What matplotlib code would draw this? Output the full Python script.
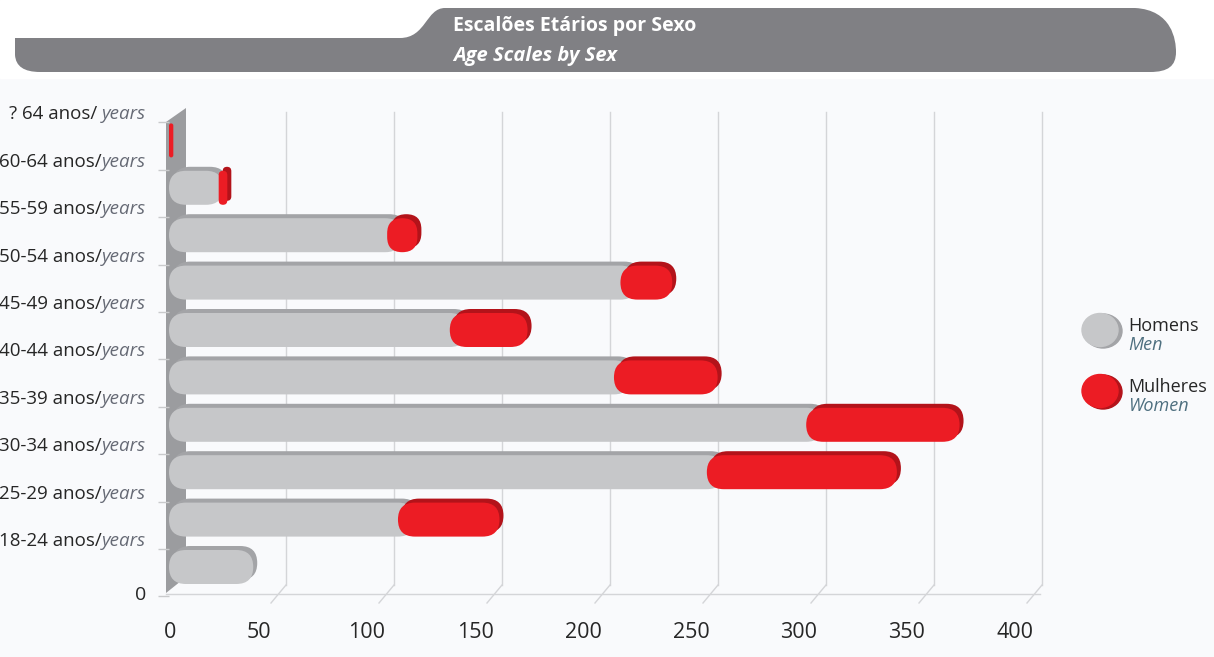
import matplotlib
matplotlib.use("Agg")
import matplotlib.pyplot as plt
import matplotlib.transforms as mtransforms
from matplotlib.patches import FancyBboxPatch, BoxStyle, Polygon, Ellipse, PathPatch, Rectangle
from matplotlib.path import Path

# data (bottom row first)
age_groups = ["18-24", "25-29", "30-34", "35-39", "40-44",
              "45-49", "50-54", "55-59", "60-64", "? 64"]
men = [39, 106, 249, 295, 206, 130, 209, 101, 23, 0]
women = [0, 47, 88, 71, 48, 36, 24, 14, 4, 2]
x_ticks = [0, 50, 100, 150, 200, 250, 300, 350, 400]

W, H = 1214, 657
GREY, GREY_DARK = "#c6c7c9", "#a3a4a7"
RED, RED_DARK = "#ec1c24", "#b3131a"
TXT = "#262626"
SUB = "#666a75"

plt.rcParams["font.family"] = ["Open Sans", "DejaVu Sans"]

fig = plt.figure(figsize=(W / 100, H / 100), dpi=100)
fig.patch.set_facecolor("#f9fafc")

# axes geometry (pixels): x=0 at 169 px, 2.16 px per unit; row 0 at 567 px, 47.4 px per row
X0, SX, XMAX = 169, 2.16, 430
Y0, SY = 567, 47.4
YLO, YHI = -0.9, 9.9
ax = fig.add_axes([X0 / W, (H - (Y0 - YLO * SY)) / H, XMAX * SX / W, (YHI - YLO) * SY / H])
ax.set_xlim(0, XMAX)
ax.set_ylim(YLO, YHI)
ax.set_facecolor("none")
for s in ax.spines.values():
    s.set_visible(False)
ax.set_xticks([])

# pixel transform (origin top-left)
pxT = mtransforms.Affine2D().scale(1 / W, -1 / H).translate(0, 1) + fig.transFigure

# white header strip + banner
ax.add_patch(Rectangle((0, 0), W, 78, transform=pxT, color="white", clip_on=False, zorder=0))
verts = [(445, 8), (1135, 8), (1172, 10), (1176, 40), (1176, 52),
         (1176, 66), (1168, 72), (1150, 72), (40, 72), (16, 72), (15, 55),
         (15, 38), (400, 38), (426, 38), (426, 8), (445, 8)]
codes = [Path.MOVETO, Path.LINETO, Path.CURVE4, Path.CURVE4, Path.CURVE4,
         Path.CURVE4, Path.CURVE4, Path.CURVE4, Path.LINETO, Path.CURVE3, Path.CURVE3,
         Path.LINETO, Path.LINETO, Path.CURVE4, Path.CURVE4, Path.CURVE4]
ax.add_patch(PathPatch(Path(verts, codes), transform=pxT, facecolor="#808084",
                       edgecolor="none", clip_on=False, zorder=1))
ax.text(453, 26, "Escalões Etários por Sexo", transform=pxT, color="white",
        fontsize=14, fontweight="bold", va="center", ha="left")
ax.text(453, 56, "Age Scales by Sex", transform=pxT, color="white",
        fontsize=14.5, fontweight="bold", style="italic", va="center", ha="left")

# back gridlines and floor hooks
blend = mtransforms.blended_transform_factory(ax.transData, pxT)
for v in x_ticks[1:]:
    ax.plot([v + 9 / SX, v + 9 / SX], [112, 585], transform=blend, color="#d4d5d8",
            lw=1, clip_on=False, zorder=1)
    ax.plot([v + 9 / SX, v - 6 / SX], [585, 603], transform=blend, color="#d4d5d8",
            lw=1, clip_on=False, zorder=1)
ax.plot([166, 1040], [594, 594], transform=pxT, color="#d4d5d8", lw=1, clip_on=False, zorder=1)

# left wall
ax.add_patch(Polygon([(166, 122), (186, 108), (186, 577), (166, 593)], closed=True,
                     transform=pxT, facecolor="#9b9c9f", edgecolor="none",
                     clip_on=False, zorder=1.5))

# bars
h = 34 / SY
r_full = 17 / SX
shadow = ax.transData + mtransforms.ScaledTranslation(4 / 100, 4 / 100, fig.dpi_scale_trans)


def pill(left, width, y, color, dark, z, shade=True):
    r = min(r_full, width / 2)
    layers = [(shadow, dark, z)] if shade else []
    layers.append((ax.transData, color, z + 0.1))
    for tr, c, zz in layers:
        p = FancyBboxPatch((left, y - h / 2), width, h,
                           boxstyle=BoxStyle("Round", pad=0, rounding_size=r),
                           mutation_aspect=SX / SY, facecolor=c, edgecolor="none",
                           transform=tr, clip_on=False, zorder=zz)
        ax.add_patch(p)


for i, (m, w) in enumerate(zip(men, women)):
    if m > 0:
        overlap = min(r_full, w / 2) if w > 0 else 0
        pill(0, m + overlap, i, GREY, GREY_DARK, 2)
    if w > 0:
        pill(m, w, i, RED, RED_DARK, 3, shade=w * SX > 6)

# y ticks and labels
ytick_pos = [k - 0.62 for k in range(len(age_groups) + 1)]
ax.set_yticks(ytick_pos)
ax.set_yticklabels([""] * len(ytick_pos))
ax.tick_params(axis="y", length=8, color="#c9cacc", width=1, direction="out")
lab_tr = mtransforms.blended_transform_factory(pxT, ax.transData) + \
    mtransforms.ScaledTranslation(0, 8 / 100, fig.dpi_scale_trans)
ax.text(146, ytick_pos[0], "0", transform=lab_tr - mtransforms.ScaledTranslation(0, 7 / 100, fig.dpi_scale_trans),
        ha="right", va="center", fontsize=14, color=TXT, clip_on=False)
for k, g in enumerate(age_groups):
    yrs = ax.text(146, ytick_pos[k + 1], "years", transform=lab_tr, ha="right", va="center",
                  fontsize=13.5, style="italic", color=SUB, clip_on=False)
    prefix = g + (" anos/ " if g.startswith("?") else " anos/")
    ax.annotate(prefix, xy=(0, 0), xycoords=yrs, ha="right", va="bottom",
                fontsize=13.5, color=TXT, annotation_clip=False)

# x tick labels on the front floor edge
for v in x_ticks:
    off = -18 if v > 0 else 1
    ax.text(v + off / SX, 632, str(v), transform=blend, ha="center", va="center",
            fontsize=15.5, color=TXT, clip_on=False)

# legend
for cy, c, dk, top, bottom in ((330, GREY, GREY_DARK, "Homens", "Men"),
                               (391, RED, RED_DARK, "Mulheres", "Women")):
    ax.add_patch(Ellipse((1103, cy + 1), 38, 34, transform=pxT, color=dk, clip_on=False, zorder=2))
    ax.add_patch(Ellipse((1100, cy), 36, 33, transform=pxT, color=c, clip_on=False, zorder=2.1))
    ax.text(1128, cy - 4, top, transform=pxT, fontsize=13, color=TXT, va="center", ha="left")
    ax.text(1128, cy + 15, bottom, transform=pxT, fontsize=13, color="#4f7080",
            style="italic", va="center", ha="left")

fig.savefig("out.png", dpi=100, facecolor=fig.get_facecolor())
